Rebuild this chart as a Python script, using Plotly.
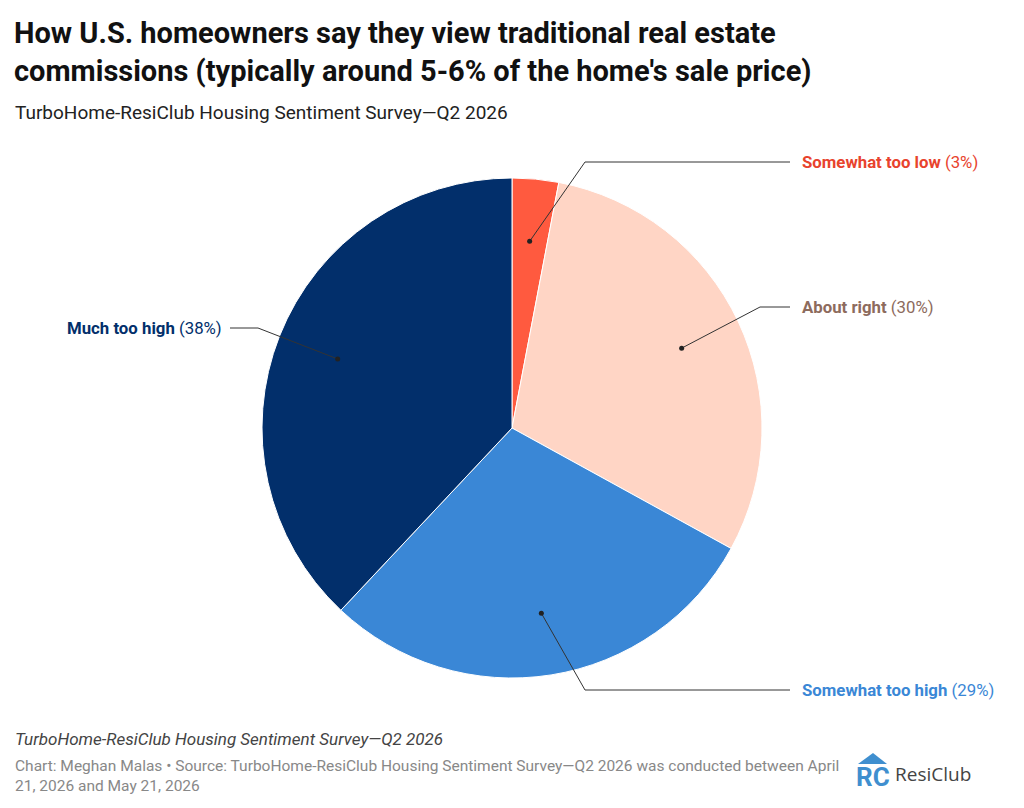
import math
import plotly.graph_objects as go

labels = ["Somewhat too low", "About right", "Somewhat too high", "Much too high"]
values = [3, 30, 29, 38]
colors = ["#ff5a3f", "#ffd5c5", "#3a87d6", "#022f6b"]
text_colors = ["#e8432d", "#8d6b5d", "#3a87d6", "#022f6b"]

W, H = 1024, 808
OFF = 8
cx, cy, R = 512, 428, 250

def px(x): return (x - OFF) / W
def py(y): return 1 - (y - OFF) / H

fig = go.Figure(go.Pie(
    labels=labels, values=values, sort=False, direction="clockwise", rotation=0,
    marker=dict(colors=colors, line=dict(color="white", width=1)),
    textinfo="none", hoverinfo="label+percent", showlegend=False,
    domain=dict(x=[px(cx - R), px(cx + R)], y=[py(cy + R), py(cy - R)]),
))

elbows = [((585, 162), (790, 162), "left"),
          ((760, 307), (790, 307), "left"),
          ((585, 690), (790, 690), "left"),
          ((258, 328), (230, 328), "right")]

shapes, annotations = [], []
total = sum(values)
cum = 0
for i, v in enumerate(values):
    mid = (cum + v / 2) / total * 2 * math.pi
    cum += v
    r = 0.75 * R
    dx, dy = cx + r * math.sin(mid), cy - r * math.cos(mid)
    (ex, ey), (lx, ly), side = elbows[i]
    path = f"M {px(dx)} {py(dy)} L {px(ex)} {py(ey)} L {px(lx)} {py(ly)}"
    shapes.append(dict(type="path", xref="paper", yref="paper", path=path,
                       line=dict(color="#333", width=1)))
    shapes.append(dict(type="circle", xref="paper", yref="paper",
                       x0=px(dx - 2.5), x1=px(dx + 2.5), y0=py(dy + 2.5), y1=py(dy - 2.5),
                       fillcolor="#222", line=dict(width=0)))
    annotations.append(dict(
        x=px(lx + (10 if side == "left" else -6)), y=py(ly), xref="paper", yref="paper",
        xanchor="left" if side == "left" else "right", yanchor="middle", showarrow=False,
        text=f"<b>{labels[i]}</b> ({v}%)",
        font=dict(size=16.8, color=text_colors[i], family="Roboto")))

annotations += [
    dict(x=px(12), y=py(14), xref="paper", yref="paper", xanchor="left", yanchor="top",
         showarrow=False, align="left",
         text="<b>How U.S. homeowners say they view traditional real estate<br>commissions (typically around 5-6% of the home's sale price)</b>",
         font=dict(size=29, color="#111", family="Roboto")),
    dict(x=px(13), y=py(112), xref="paper", yref="paper", xanchor="left", yanchor="middle",
         showarrow=False, text="TurboHome-ResiClub Housing Sentiment Survey—Q2 2026",
         font=dict(size=19, color="#222", family="Roboto")),
    dict(x=px(13), y=py(739), xref="paper", yref="paper", xanchor="left", yanchor="middle",
         showarrow=False, text="<i>TurboHome-ResiClub Housing Sentiment Survey—Q2 2026</i>",
         font=dict(size=17, color="#444", family="Roboto")),
    dict(x=px(13), y=py(755), xref="paper", yref="paper", xanchor="left", yanchor="top",
         showarrow=False, align="left",
         text="Chart: Meghan Malas • Source: TurboHome-ResiClub Housing Sentiment Survey—Q2 2026 was conducted between April<br>21, 2026 and May 21, 2026",
         font=dict(size=15.5, color="#888", family="Roboto")),
    dict(x=px(893), y=py(774), xref="paper", yref="paper", xanchor="left", yanchor="middle",
         showarrow=False, text="ResiClub",
         font=dict(size=19, color="#444", family="Open Sans")),
    dict(x=px(873), y=py(777), xref="paper", yref="paper", xanchor="center", yanchor="middle",
         showarrow=False, text="<b>RC</b>",
         font=dict(size=26, color="#3f8fcf", family="Roboto")),
]
shapes.append(dict(type="path", xref="paper", yref="paper",
                   path=f"M {px(858)} {py(764)} L {px(873)} {py(753)} L {px(887)} {py(764)} Z",
                   fillcolor="#3f8fcf", line=dict(width=0)))

fig.update_layout(width=W, height=H, margin=dict(l=0, r=0, t=0, b=0),
                  paper_bgcolor="white", plot_bgcolor="white",
                  shapes=shapes, annotations=annotations)
fig.write_html("out.html")
